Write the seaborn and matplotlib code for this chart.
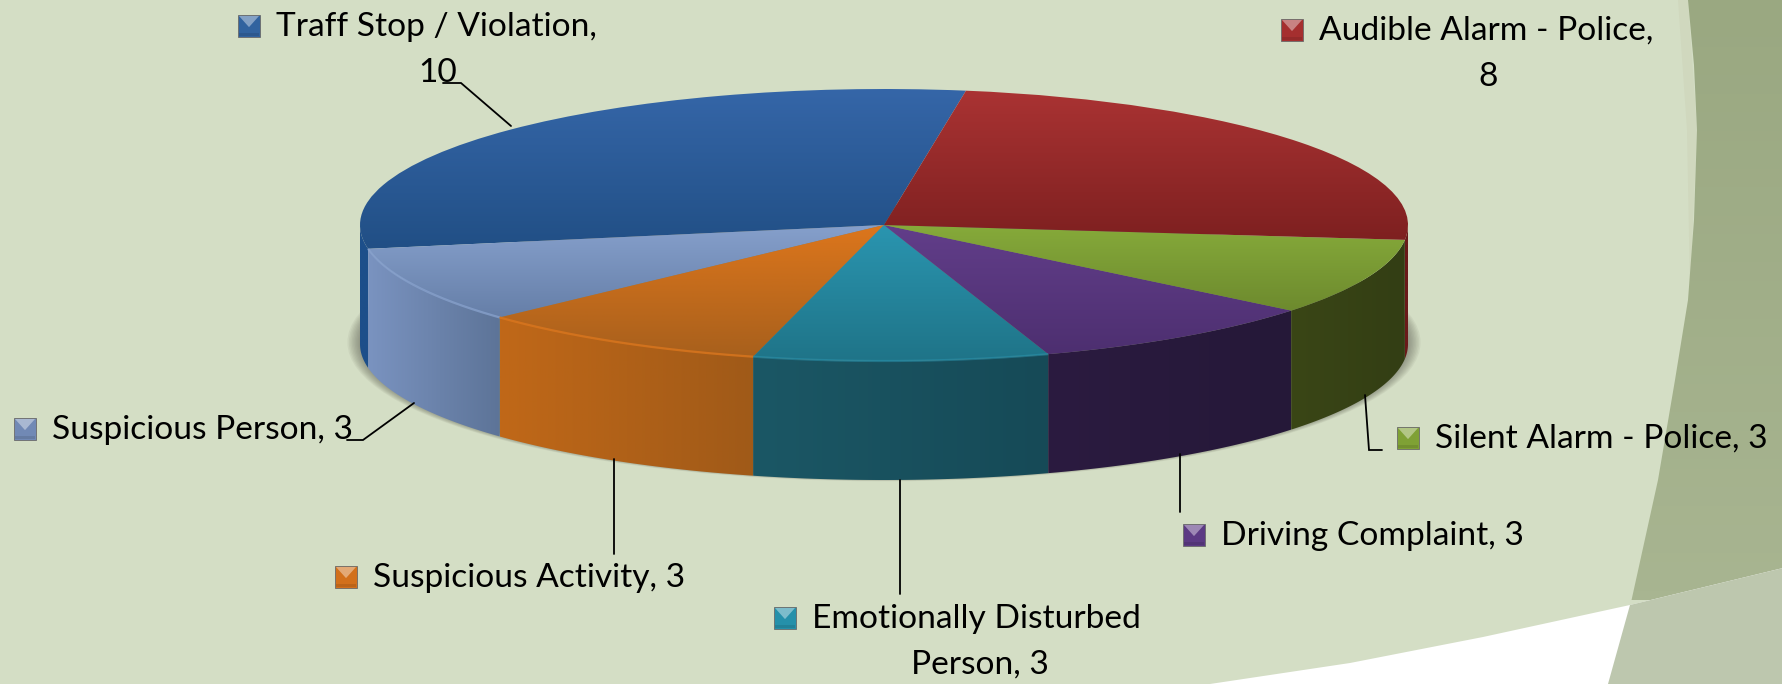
import numpy as np
import matplotlib
matplotlib.use("Agg")
import matplotlib.pyplot as plt
from matplotlib.colors import LinearSegmentedColormap as LSC
from matplotlib.patches import Ellipse, Polygon
import seaborn as sns

sns.set_theme(style="white")
plt.rcParams["font.family"] = ["Lato", "DejaVu Sans"]

categories = ["Traff Stop / Violation", "Suspicious Person", "Suspicious Activity",
              "Emotionally Disturbed Person", "Driving Complaint",
              "Silent Alarm - Police", "Audible Alarm - Police"]
values = [10, 3, 3, 3, 3, 3, 8]
top_from = ["#3566a8", "#86a0cc", "#dc761c", "#2a95b0", "#623e8a", "#86aa3a", "#aa3333"]
top_to = ["#214f85", "#667fa8", "#a8601c", "#1f7488", "#4d2f70", "#6d8a2e", "#7e2020"]
wall_from = ["#1d4f8a", "#7a93c0", "#c06818", "#1b5765", "#2b1b40", "#3a4616", "#6a1a1a"]
wall_to = ["#1d4f8a", "#5d7498", "#a05a18", "#164a57", "#251838", "#333e14", "#6a1a1a"]
rim_alpha = [0, 0.8, 0.8, 0.5, 0, 0, 0]
key_colors = ["#31639f", "#7189b5", "#d2701c", "#2590aa", "#5c3a84", "#7fa135", "#a52f2f"]

W, H = 1783, 684
CX, CY, RX, RY = 884.0, 225.0, 524.0, 136.0
WALL = 119.0
START = 81.0

fig = plt.figure(figsize=(W / 100, H / 100), dpi=100)

# ---- slide background, pixel coordinates
bg = fig.add_axes([0, 0, 1, 1], zorder=0)
bg.add_patch(plt.Rectangle((0, 0), W, H, color="#d4dec5", lw=0, zorder=1))
edge = [(1688, 0), (1694, 65), (1697, 130), (1694, 220), (1688, 300), (1675, 380),
        (1658, 480), (1630, 607), (1608, 684)]
swoosh = [(1210, 684), (1350, 663), (1483, 637), (1630, 605), (W, 568)]
bg.add_patch(Polygon([(1678, 0), (1687, 130), (1690, 290), (1697, 130), (1688, 0)],
                     color="#d0d8be", lw=0, zorder=2))
grad = LSC.from_list("b", ["#9aa881", "#a8b591"])
im = bg.imshow(np.linspace(0, 1, 64)[:, None], cmap=grad, extent=(1500, W, 600, 0),
               aspect="auto", zorder=3)
band = Polygon(edge + [(W, H), (W, 0)], facecolor="none", edgecolor="none", lw=0, zorder=3)
bg.add_patch(band); im.set_clip_path(band)
bg.add_patch(Polygon(swoosh + [(W, H), (1210, H)], color="white", lw=0, zorder=4))
bg.add_patch(Polygon([(1630, 605), (W, 568), (W, H), (1608, H)], color="#bdc7ae", lw=0, zorder=5))
bg.set_xlim(0, W); bg.set_ylim(H, 0); bg.axis("off")

# ---- pie, unit-circle coordinates squashed by the axes limits
ax = fig.add_axes([0, 0, 1, 1], zorder=1)
ax.patch.set_alpha(0)
wedges, _ = ax.pie(values, startangle=START, counterclock=True, radius=1, center=(0, 0),
                   wedgeprops=dict(linewidth=0))
ax.set_aspect("auto")
xl = (-CX / RX, (W - CX) / RX)
yl = ((CY - H) / RY, CY / RY)
wall_h = WALL / RY

# shadow under the pie
for k in range(14):
    f = 1.024 - k * 0.0028
    ax.add_patch(Ellipse((0, -wall_h + 0.012), 2 * f, 2 * (1 + (f - 1) * 0.9), color="#55554a",
                         alpha=0.07, lw=0, zorder=1))

fracs = np.array(values) / sum(values)
a0 = START
for i, w in enumerate(wedges):
    a1 = a0 + 360 * fracs[i]
    th = np.radians(np.linspace(a0, a1, 200))
    th = th[np.sin(th) <= 0.0]
    if th.size:
        x, y = np.cos(th), np.sin(th)
        poly = np.r_[np.c_[x, y], np.c_[x[::-1], y[::-1] - wall_h]]
        p = Polygon(poly, closed=True, facecolor="none", edgecolor="none", zorder=3)
        ax.add_patch(p)
        cm = LSC.from_list("w%d" % i, [wall_from[i], wall_to[i]])
        g = ax.imshow(np.linspace(0, 1, 128)[None, :], cmap=cm, aspect="auto", zorder=3,
                      extent=(x.min(), x.max(), -2.2, 0.2))
        g.set_clip_path(p)
    bb = w.get_path().transformed(w.get_transform() - ax.transData).get_extents()
    cm = LSC.from_list("t%d" % i, [top_from[i], top_to[i]])
    g = ax.imshow(np.linspace(0, 1, 128)[:, None], cmap=cm, aspect="auto", zorder=4,
                  extent=(bb.x0, bb.x1, bb.y0, bb.y1), origin="upper")
    w.set_facecolor("none"); w.set_zorder(4)
    g.set_clip_path(w)
    if th.size and rim_alpha[i] > 0:
        ax.plot(np.cos(th), np.sin(th), color=top_from[i], lw=1.6, alpha=rim_alpha[i], zorder=5,
                solid_capstyle="butt")
    a0 = a1
ax.set_xlim(*xl); ax.set_ylim(*yl); ax.axis("off")

# ---- labels, keys and leader lines, pixel coordinates
top = fig.add_axes([0, 0, 1, 1], zorder=2)
top.patch.set_alpha(0)

label_rows = [
    ("Traff Stop / Violation,", 276, 27, 0, "10", 438, 73),
    ("Suspicious Person, 3", 52, 430, 1, None, 0, 0),
    ("Suspicious Activity, 3", 373, 578, 2, None, 0, 0),
    ("Emotionally Disturbed", 812, 619, 3, "Person, 3", 980, 665),
    ("Driving Complaint, 3", 1221, 536, 4, None, 0, 0),
    ("Silent Alarm - Police, 3", 1435, 439, 5, None, 0, 0),
    ("Audible Alarm - Police,", 1319, 31, 6, "8", 1488, 77),
]
FS = 24.1
for txt, x, y, c, t2, x2, y2 in label_rows:
    top.text(x, y, txt, fontsize=FS, color="black", va="center", ha="left")
    if t2:
        top.text(x2, y2, t2, fontsize=FS, color="black", va="center", ha="center")
    kx, ky, s = x - 38, y - 12, 22
    top.add_patch(plt.Rectangle((kx, ky), s, s, facecolor=key_colors[c], edgecolor="#6a6a6a",
                                lw=0.6))
    top.add_patch(Polygon([(kx + 1, ky + 1), (kx + s - 1, ky + 1), (kx + s / 2, ky + s * 0.55)],
                          color="white", alpha=0.4, lw=0))
    top.add_patch(plt.Rectangle((kx + 1, ky + s - 4), s - 2, 3, color="black", alpha=0.1, lw=0))

leaders = [
    ([443, 461, 511], [83, 83, 126]),
    ([347, 363, 414], [440, 440, 403]),
    ([614, 614], [459, 554]),
    ([900, 900], [480, 594]),
    ([1180.5, 1180.5], [454, 512]),
    ([1365, 1369, 1382], [395, 450, 450]),
]
for xs, ys in leaders:
    top.plot(xs, ys, color="black", lw=1.3, solid_joinstyle="miter")
top.set_xlim(0, W); top.set_ylim(H, 0); top.axis("off")

fig.savefig("out.png", dpi=100)
